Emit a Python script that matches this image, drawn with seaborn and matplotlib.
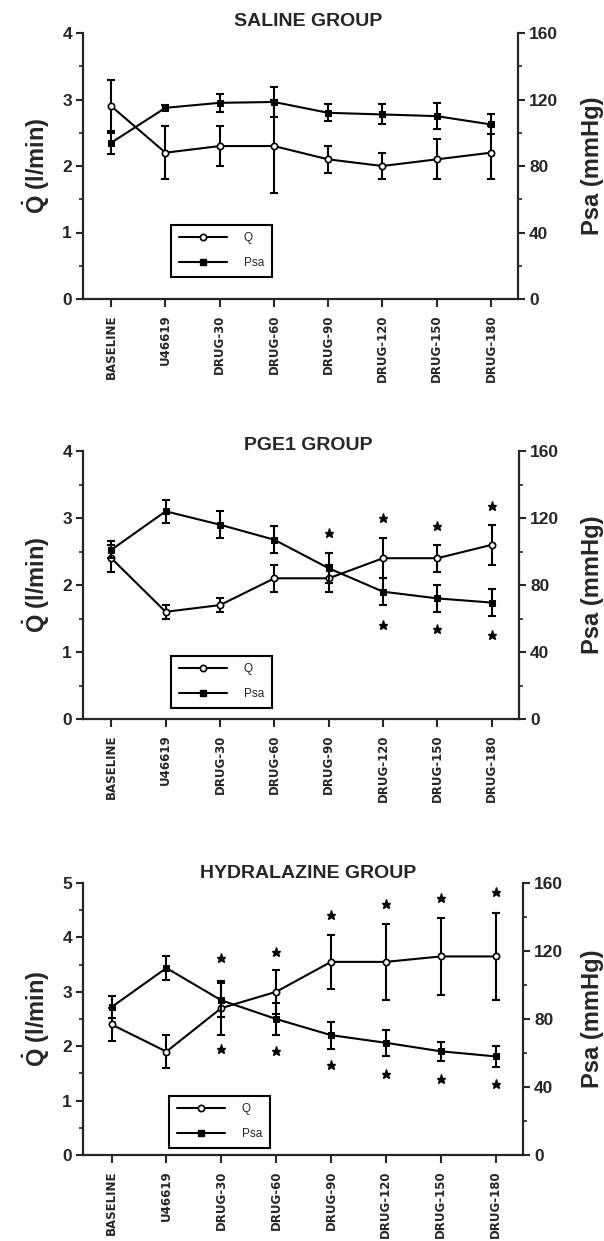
import numpy as np
import pandas as pd
import matplotlib
matplotlib.use('Agg')
import matplotlib.pyplot as plt
from matplotlib.lines import Line2D
from matplotlib.ticker import MultipleLocator
import seaborn as sns

# stages on the x axis
stages = ['BASELINE', 'U46619', 'DRUG-30', 'DRUG-60', 'DRUG-90',
          'DRUG-120', 'DRUG-150', 'DRUG-180']

# saline group
saline_q = [2.9, 2.2, 2.3, 2.3, 2.1, 2.0, 2.1, 2.2]
saline_q_err = [0.4, 0.4, 0.3, 0.7, 0.2, 0.2, 0.3, 0.4]
saline_psa = [94, 115, 118, 118.5, 112, 111, 110, 105]
saline_psa_err = [7, 1.5, 5.5, 9, 5, 6, 8, 6]

# PGE1 group
pge_q = [2.4, 1.6, 1.7, 2.1, 2.1, 2.4, 2.4, 2.6]
pge_q_err = [0.2, 0.1, 0.1, 0.2, 0.2, 0.3, 0.2, 0.3]
pge_psa = [101, 124, 116, 107, 90, 76, 72, 69.5]
pge_psa_err = [5, 7, 8, 8, 9, 8, 8, 8]
pge_star_up_x = ['DRUG-90', 'DRUG-120', 'DRUG-150', 'DRUG-180']
pge_star_up_y = [2.77, 3.0, 2.88, 3.18]
pge_star_dn_x = ['DRUG-120', 'DRUG-150', 'DRUG-180']
pge_star_dn_y = [1.41, 1.35, 1.25]

# hydralazine group
hyd_q = [2.4, 1.9, 2.7, 3.0, 3.55, 3.55, 3.65, 3.65]
hyd_q_err = [0.3, 0.3, 0.5, 0.4, 0.5, 0.7, 0.7, 0.8]
hyd_psa = [87, 110, 91, 80, 70.5, 66, 61, 58]
hyd_psa_err = [6.5, 7, 10, 9.5, 8, 7.5, 5.5, 6]
hyd_star_up_x = ['DRUG-30', 'DRUG-60', 'DRUG-90', 'DRUG-120', 'DRUG-150', 'DRUG-180']
hyd_star_up_y = [3.62, 3.74, 4.41, 4.62, 4.73, 4.84]
hyd_star_dn_x = ['DRUG-30', 'DRUG-60', 'DRUG-90', 'DRUG-120', 'DRUG-150', 'DRUG-180']
hyd_star_dn_y = [1.94, 1.91, 1.65, 1.49, 1.40, 1.30]

W, H = 604, 1241

sns.set_style('ticks')
plt.rcParams['font.family'] = ['Liberation Sans', 'DejaVu Sans']
plt.rcParams['mathtext.fontset'] = 'custom'
plt.rcParams['mathtext.bf'] = 'Liberation Sans:bold'
plt.rcParams['mathtext.rm'] = 'Liberation Sans:bold'
plt.rcParams['axes.linewidth'] = 1.6

fig = plt.figure(figsize=(W / 100, H / 100), dpi=100)


def draw_panel(px, title, q, q_err, psa, psa_err, qmax, title_off, leg_xy,
               star_up=None, star_dn=None):
    x0, x1, y0, y1 = px
    ax = fig.add_axes([x0 / W, 1 - y1 / H, (x1 - x0) / W, (y1 - y0) / H])
    ax2 = ax.twinx()
    pos = np.arange(len(stages))
    df = pd.DataFrame({'pos': pos, 'Q': q, 'Psa': psa})

    sns.lineplot(data=df, x='pos', y='Q', ax=ax, color='k', lw=1.5,
                 marker='o', markersize=4.5, markerfacecolor='white',
                 markeredgecolor='k', markeredgewidth=1.2, zorder=3)
    ax.errorbar(pos, q, yerr=q_err, fmt='none', ecolor='k', elinewidth=1.5,
                capsize=3, capthick=1.5, zorder=2)

    sns.lineplot(data=df, x='pos', y='Psa', ax=ax2, color='k', lw=1.5,
                 marker='s', markersize=5, markerfacecolor='k',
                 markeredgecolor='k', zorder=3)
    ax2.errorbar(pos, psa, yerr=psa_err, fmt='none', ecolor='k',
                 elinewidth=1.5, capsize=3, capthick=1.5, zorder=2)

    for stars in (star_up, star_dn):
        if stars is not None:
            sx = [stages.index(s) for s in stars[0]]
            ax.plot(sx, stars[1], ls='none', marker='*', ms=6.5, color='k')

    ax.set_xlim(-0.52, 7.5)
    ax.set_ylim(0, qmax)
    ax2.set_ylim(0, 160)
    ax.yaxis.set_major_locator(MultipleLocator(1))
    ax.yaxis.set_minor_locator(MultipleLocator(0.5))
    ax2.yaxis.set_major_locator(MultipleLocator(40))
    ax2.yaxis.set_minor_locator(MultipleLocator(20))
    ax.set_xticks(pos)
    ax.set_xticklabels(stages, rotation=90, fontsize=8.5, fontweight='bold',
                       fontfamily='DejaVu Sans')
    ax.tick_params(axis='x', length=6, width=1.5, pad=5)
    ax.tick_params(axis='y', which='major', length=5, width=1.5,
                   labelsize=12.5, pad=3)
    ax.tick_params(axis='y', which='minor', length=3, width=1.2)
    ax2.tick_params(axis='y', which='major', length=5, width=1.5,
                    labelsize=12.5, pad=3)
    ax2.tick_params(axis='y', which='minor', length=3, width=1.2)
    for lab in ax.get_yticklabels() + ax2.get_yticklabels():
        lab.set_fontweight('bold')
    ax.set_xlabel('')
    ax.set_ylabel('')
    ax2.set_ylabel('')

    for s in ('top', 'right'):
        ax.spines[s].set_visible(False)
    for s in ('top', 'left', 'bottom'):
        ax2.spines[s].set_visible(False)
    ax2.spines['right'].set_linewidth(1.6)

    h = y1 - y0
    w = x1 - x0
    ax.text((308 - x0) / w, 1 + title_off / h, title, transform=ax.transAxes,
            ha='center', va='center', fontsize=14, fontweight='bold')
    ax.text((36 - x0) / w, 0.5, r'$\dot{\mathbf{Q}}$ (l/min)',
            transform=ax.transAxes, rotation=90, ha='center', va='center',
            fontsize=17, fontweight='bold')
    ax.text((592 - x0) / w, 0.5, 'Psa (mmHg)', transform=ax.transAxes,
            rotation=90, ha='center', va='center', fontsize=17,
            fontweight='bold')

    handles = [
        Line2D([], [], color='k', lw=1.5, marker='o', ms=4.5,
               mfc='white', mec='k', mew=1.2),
        Line2D([], [], color='k', lw=1.5, marker='s', ms=5, mfc='k', mec='k'),
    ]
    leg = ax2.legend(handles, ['Q', 'Psa'], loc='lower left',
                     bbox_to_anchor=((leg_xy[0] - x0) / w, (y1 - leg_xy[1]) / h),
                     borderaxespad=0, fontsize=8.5, handlelength=4.1,
                     handletextpad=1.4, labelspacing=1.1, borderpad=0.65,
                     fancybox=False, framealpha=1, edgecolor='k')
    leg.get_frame().set_linewidth(1.5)
    return ax, ax2


draw_panel((83, 518, 33, 299), 'SALINE GROUP', saline_q, saline_q_err,
           saline_psa, saline_psa_err, 4, 11, (171, 277))
draw_panel((83, 519, 451, 719), 'PGE1 GROUP', pge_q, pge_q_err,
           pge_psa, pge_psa_err, 4, 5, (171, 708),
           (pge_star_up_x, pge_star_up_y), (pge_star_dn_x, pge_star_dn_y))
draw_panel((83, 523, 883, 1155), 'HYDRALAZINE GROUP', hyd_q, hyd_q_err,
           hyd_psa, hyd_psa_err, 5, 9, (169, 1148),
           (hyd_star_up_x, hyd_star_up_y), (hyd_star_dn_x, hyd_star_dn_y))

fig.savefig('out.png', dpi=100)
